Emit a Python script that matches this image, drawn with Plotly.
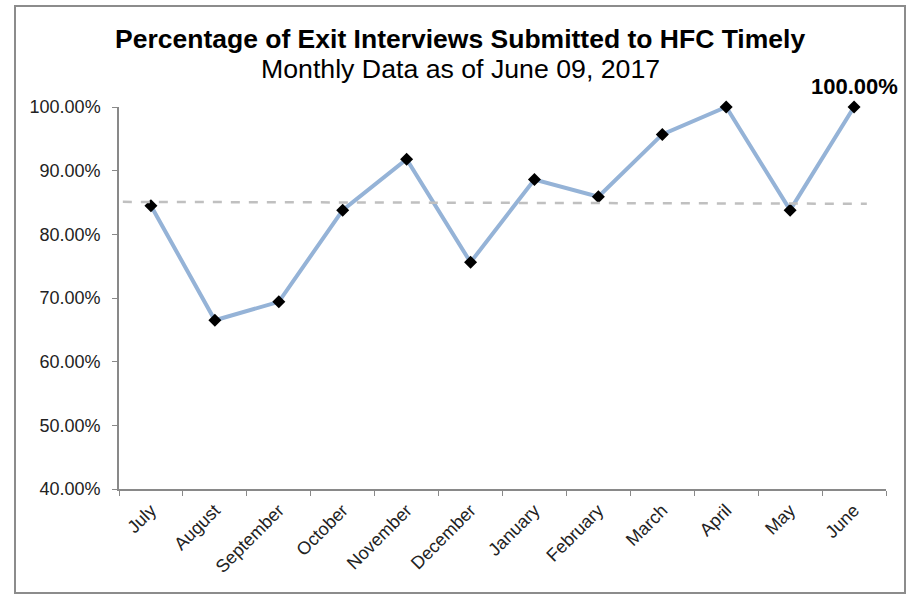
import plotly.graph_objects as go

months = ["July", "August", "September", "October", "November", "December",
          "January", "February", "March", "April", "May", "June"]
pct_timely = [84.5, 66.5, 69.4, 83.8, 91.8, 75.6, 88.6, 85.9, 95.7, 100.0, 83.8, 100.0]
trend_x = [-0.44, 11.2]
trend_y = [85.1, 84.8]
y_ticks = [40, 50, 60, 70, 80, 90, 100]

FONT = "Liberation Sans"

fig = go.Figure()

fig.add_trace(go.Scatter(
    x=trend_x, y=trend_y, xaxis="x2", yaxis="y",
    mode="lines", line=dict(color="#c0c0c0", width=2.5, dash="dash"),
    hoverinfo="skip", showlegend=False,
))

fig.add_trace(go.Scatter(
    x=months, y=pct_timely, mode="lines+markers",
    line=dict(color="#95b3d7", width=4),
    marker=dict(symbol="diamond", size=10, color="black"),
    showlegend=False, cliponaxis=False,
))

fig.update_layout(
    width=912, height=595,
    margin=dict(l=119, r=26, t=107, b=106),
    paper_bgcolor="white", plot_bgcolor="white",
    font=dict(family=FONT, color="#222"),
    xaxis=dict(
        type="category", categoryorder="array", categoryarray=months,
        tickson="boundaries", ticks="outside", ticklen=5, tickcolor="#898989",
        showline=True, linecolor="#898989", linewidth=1.5,
        showgrid=False, tickangle=-45, ticklabelstandoff=2,
        tickfont=dict(family=FONT, size=18, color="#222"),
        range=[-0.5, 11.5],
    ),
    xaxis2=dict(
        overlaying="x", range=[-0.5, 11.5], visible=False,
    ),
    yaxis=dict(
        range=[40, 100], tickvals=y_ticks,
        ticktext=[f"{v:.2f}%" for v in y_ticks],
        ticks="outside", ticklen=5, tickcolor="#898989",
        showline=True, linecolor="#898989", linewidth=1.5,
        showgrid=False, zeroline=False, ticklabelstandoff=8,
        tickfont=dict(family=FONT, size=18, color="#222"),
    ),
    annotations=[
        dict(text="<b>Percentage of Exit Interviews Submitted to HFC Timely</b>",
             xref="paper", yref="paper", x=(460 - 119) / 767, y=(489 - 56) / 382,
             xanchor="center", yanchor="bottom", showarrow=False,
             font=dict(family=FONT, size=26.5, color="black")),
        dict(text="Monthly Data as of June 09, 2017",
             xref="paper", yref="paper", x=(460 - 119) / 767, y=(489 - 86) / 382,
             xanchor="center", yanchor="bottom", showarrow=False,
             font=dict(family=FONT, size=26.7, color="black")),
        dict(text=f"<b>{pct_timely[-1]:.2f}%</b>",
             xref="x", yref="y", x=months[-1], y=pct_timely[-1],
             xanchor="center", yanchor="bottom", yshift=6, showarrow=False,
             font=dict(family=FONT, size=22, color="black")),
    ],
    shapes=[
        dict(type="rect", xref="paper", yref="paper",
             x0=(15 - 119) / 767, x1=(905 - 119) / 767,
             y0=(489 - 593) / 382, y1=(489 - 6) / 382,
             line=dict(color="#8c8c8c", width=2), fillcolor="rgba(0,0,0,0)",
             layer="below"),
    ],
)

fig.write_html("out.html", config={"displayModeBar": False},
               post_script="document.body.style.margin='0';")
